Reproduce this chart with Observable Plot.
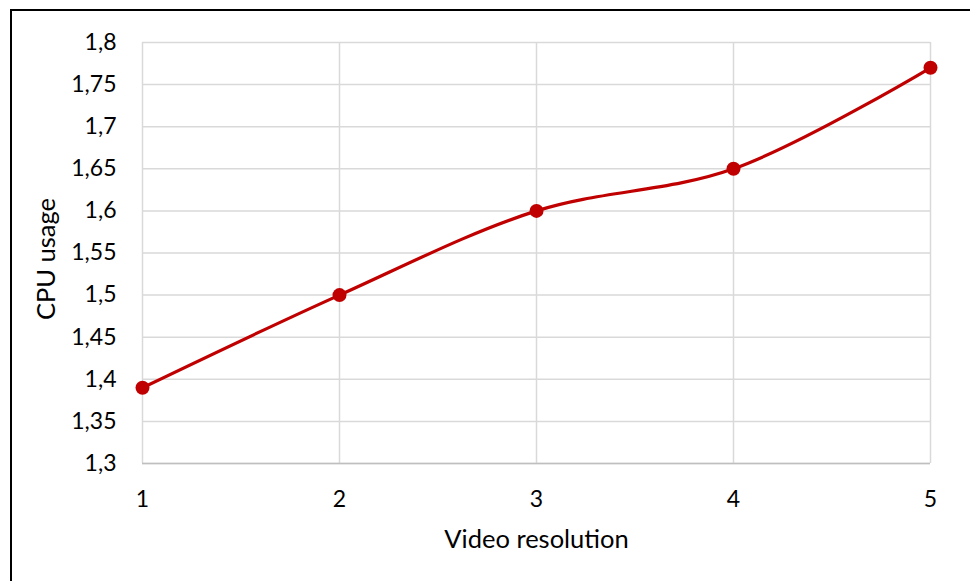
<!DOCTYPE html>
<html>
<head>
<meta charset="utf-8">
<script src="https://cdn.jsdelivr.net/npm/d3@7"></script>
<script src="https://cdn.jsdelivr.net/npm/@observablehq/plot@0.6"></script>
<style>
  html, body { margin: 0; padding: 0; background: #fff; overflow: hidden; }
  #wrap { position: relative; width: 970px; height: 581px; }
  #edge { position: absolute; left: 10px; top: 9px; width: 980px; height: 600px; border: 2px solid #000; box-sizing: border-box; }
  #chart { position: absolute; left: 0; top: 0; }
</style>
</head>
<body>
<div id="wrap"><div id="edge"></div><div id="chart"></div></div>
<script>
// Video resolution levels and the measured CPU usage at each
const resolutions = [1, 2, 3, 4, 5];
const cpuUsage = [1.39, 1.5, 1.6, 1.65, 1.77];
const yTicks = [1.3, 1.35, 1.4, 1.45, 1.5, 1.55, 1.6, 1.65, 1.7, 1.75, 1.8];

const rows = resolutions.map((r, i) => ({resolution: r, cpu: cpuUsage[i]}));
const comma = d => String(d).replace(".", ",");
const font = "Lato, 'Open Sans', sans-serif";

const plot = Plot.plot({
  width: 970,
  height: 581,
  marginLeft: 142,
  marginRight: 40,
  marginTop: 42,
  marginBottom: 118,
  style: {fontFamily: font, fontSize: "23px", color: "#000", background: "transparent"},
  x: {domain: [1, 5], ticks: resolutions, tickFormat: d => String(d), label: null},
  y: {domain: [1.3, 1.8], ticks: yTicks, tickFormat: comma, label: null},
  marks: [
    Plot.gridY(yTicks, {stroke: "#d9d9d9", strokeOpacity: 1, strokeWidth: 1.5}),
    Plot.gridX(resolutions, {stroke: "#d9d9d9", strokeOpacity: 1, strokeWidth: 1.5}),
    Plot.ruleY([1.3], {stroke: "#bfbfbf", strokeWidth: 1.5}),
    Plot.axisY(yTicks, {tickSize: 0, tickPadding: 26, tickFormat: comma, fontSize: 23, label: null}),
    Plot.axisX(resolutions, {tickSize: 0, tickPadding: 27, tickFormat: d => String(d), fontSize: 23, label: null}),
    Plot.line(rows, {x: "resolution", y: "cpu", stroke: "#c00000", strokeWidth: 3.2, curve: "catmull-rom"}),
    Plot.dot(rows, {x: "resolution", y: "cpu", r: 7, fill: "#c00000", stroke: "none"}),
    Plot.text(["Video resolution"], {frameAnchor: "bottom", dy: 84, fontSize: 25.5, fill: "#000"}),
    Plot.text(["CPU usage"], {frameAnchor: "left", textAnchor: "middle", dx: -96, dy: 6, rotate: -90, fontSize: 25.5, fill: "#000"})
  ]
});
document.getElementById("chart").appendChild(plot);
</script>
</body>
</html>
